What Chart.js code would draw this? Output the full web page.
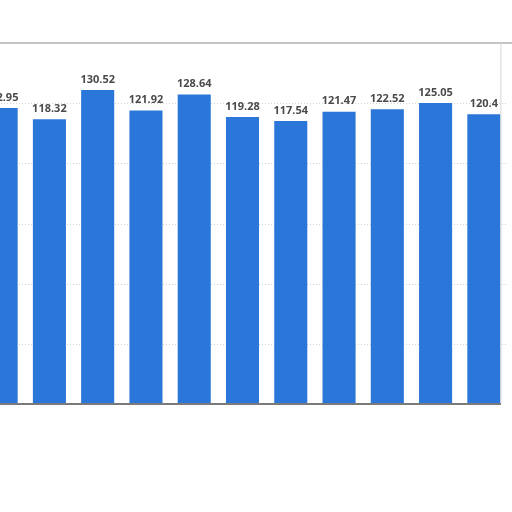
<!DOCTYPE html>
<html>
<head>
<meta charset="utf-8">
<script src="https://cdn.jsdelivr.net/npm/chart.js@4.4.1/dist/chart.umd.min.js"></script>
<style>
  html, body { margin: 0; padding: 0; background: #fff; overflow: hidden; }
  #wrap { position: absolute; left: -23px; top: 0; width: 535px; height: 512px; }
</style>
</head>
<body>
<div id="wrap"><canvas id="barChart"></canvas></div>
<script>
'use strict';

// ── Data ─────────────────────────────────────────────────────────────────────
const categories = ['1', '2', '3', '4', '5', '6', '7', '8', '9', '10', '11'];
const values     = [122.95, 118.32, 130.52, 121.92, 128.64, 119.28, 117.54, 121.47, 122.52, 125.05, 120.4];
const gridValues = [25, 50, 75, 100, 125];
const axisMin    = 0;
const axisMax    = 150;

// ── Plugins ──────────────────────────────────────────────────────────────────
const gridPlugin = {
  id: 'gridPlugin',
  beforeDatasetsDraw(chart) {
    const { ctx, chartArea, scales } = chart;
    const y = scales.y;
    ctx.save();
    ctx.strokeStyle = '#d2d2d2';
    ctx.lineWidth = 1;
    ctx.setLineDash([1, 2]);
    gridValues.forEach(v => {
      const py = Math.round(y.getPixelForValue(v)) + 0.5;
      ctx.beginPath();
      ctx.moveTo(chartArea.left, py);
      ctx.lineTo(chartArea.right, py);
      ctx.stroke();
    });
    ctx.setLineDash([]);
    // top frame line
    ctx.strokeStyle = '#c4c4c4';
    ctx.lineWidth = 2;
    const top = y.getPixelForValue(axisMax);
    ctx.beginPath();
    ctx.moveTo(chartArea.left, top);
    ctx.lineTo(chart.width, top);
    ctx.stroke();
    ctx.restore();
  },
  afterDatasetsDraw(chart) {
    const { ctx, chartArea, scales } = chart;
    const bars = chart.getDatasetMeta(0).data;
    const last = bars[bars.length - 1];
    const right = last.x + last.width / 2 + 0.5;
    const base = scales.y.getPixelForValue(axisMin);
    ctx.save();
    // right frame line
    ctx.strokeStyle = '#d6d6d6';
    ctx.lineWidth = 1;
    ctx.beginPath();
    ctx.moveTo(right, scales.y.getPixelForValue(axisMax));
    ctx.lineTo(right, base);
    ctx.stroke();
    // baseline
    ctx.strokeStyle = '#7a7a7a';
    ctx.lineWidth = 2;
    ctx.beginPath();
    ctx.moveTo(chartArea.left, base);
    ctx.lineTo(right, base);
    ctx.stroke();
    // value labels
    ctx.fillStyle = '#4a4a4a';
    ctx.font = 'bold 11px "Open Sans", sans-serif';
    ctx.textAlign = 'center';
    ctx.textBaseline = 'bottom';
    bars.forEach((bar, i) => {
      ctx.fillText(String(values[i]), bar.x, bar.y - 5);
    });
    ctx.restore();
  },
};

// ── Chart ────────────────────────────────────────────────────────────────────
const ctx = document.getElementById('barChart').getContext('2d');

new Chart(ctx, {
  type: 'bar',
  data: {
    labels: categories,
    datasets: [{
      data: values,
      backgroundColor: '#2b76d9',
      borderWidth: 0,
      barPercentage: 0.685,
      categoryPercentage: 1,
    }],
  },
  options: {
    responsive: true,
    maintainAspectRatio: false,
    animation: false,
    layout: { padding: { top: 43, bottom: 108, left: 0, right: 4 } },
    scales: {
      x: { display: false },
      y: { display: false, min: axisMin, max: axisMax },
    },
    plugins: {
      legend: { display: false },
      tooltip: { enabled: false },
    },
  },
  plugins: [gridPlugin],
});
</script>
</body>
</html>
